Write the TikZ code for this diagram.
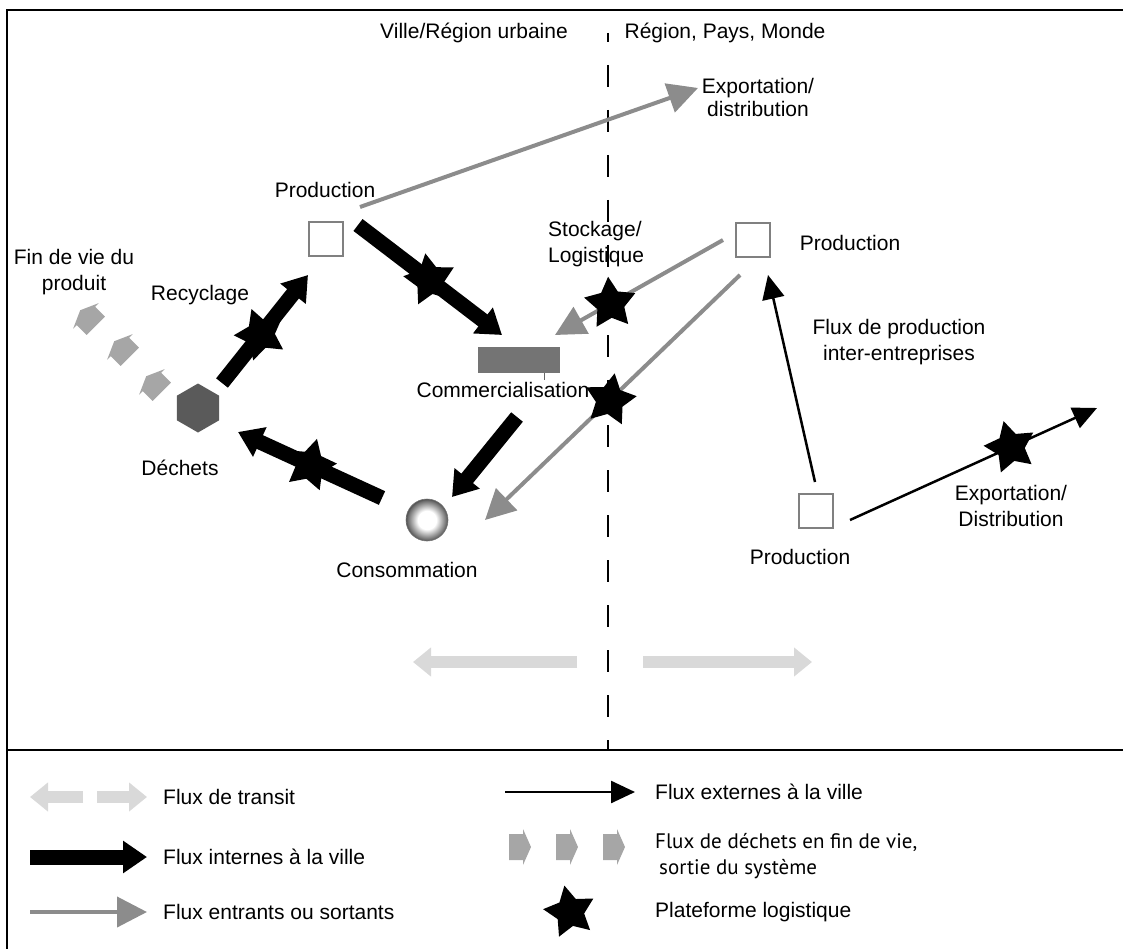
\documentclass[tikz,border=0pt]{standalone}
\usepackage{fontspec}
\setmainfont{Liberation Sans}
\newfontfamily\legfont{PT Sans}
\usetikzlibrary{arrows.meta,shapes.geometric,calc}

\definecolor{fluxgray}{HTML}{8C8C8C}
\definecolor{transitgray}{HTML}{D9D9D9}
\definecolor{wastegray}{HTML}{A6A6A6}
\definecolor{prodgray}{HTML}{808080}
\definecolor{commgray}{HTML}{747474}
\definecolor{dechgray}{HTML}{5A5A5A}

\pgfdeclareradialshading{consball}{\pgfpoint{0bp}{0bp}}{%
  color(0bp)=(white); color(11bp)=(white); color(24bp)=(black!62);
  color(25bp)=(black!70); color(50bp)=(black!70)}

\tikzset{
  intern/.style={line width=15pt, -{Triangle[width=31pt,length=24pt]}},
  inout/.style={fluxgray, line width=4pt, -{Triangle[width=30pt,length=30pt]}},
  extern/.style={line width=2.5pt, -{Triangle[width=22pt,length=24pt]}},
  transit/.style={transitgray, line width=12pt, -{Triangle[width=28pt,length=18pt]}},
  prod/.style={draw=prodgray, line width=1.5pt, minimum size=34pt, inner sep=0pt, fill=white},
  hub/.style={star, star points=5, star point ratio=1.9, fill=black, minimum size=54pt, inner sep=0pt},
  lbl/.style={inner sep=0pt, align=center},
  wastepic/.pic={\fill[wastegray] (-11,-13) -- (3,-13) -- (3,-18) -- (11,0) -- (3,18) -- (3,13) -- (-11,13) -- cycle;}
}

\begin{document}
\begin{tikzpicture}[x=1pt, y=-1pt, every node/.style={font=\fontsize{21}{26}\selectfont}]
  \useasboundingbox (0,0) rectangle (1123,949);
  % frame and city limit
  \draw[line width=1.5pt] (1123,10) -- (7,10) -- (7,949);
  \draw[line width=1.2pt] (7,750) -- (1123,750);
  \draw[line width=1.5pt, dash pattern=on 22pt off 23pt, dash phase=13pt] (608,33) -- (608,750);
  \node[lbl] (ville) at (474,33) {Ville/Région urbaine};
  \node[lbl] (monde) at (725,33) {Région, Pays, Monde};

  % places
  \node[prod] (prodA) at (326,239) {};
  \node[prod] (prodB) at (753,240) {};
  \node[prod] (prodC) at (816,511) {};
  \node[fill=commgray, minimum width=82pt, minimum height=26pt, inner sep=0pt] (comm) at (519,360) {};
  \draw[black!60, line width=0.6pt] ($(comm.south)+(25,0)$) -- ++(0,7);
  \node[circle, minimum size=42pt, inner sep=0pt, shading=consball, draw=black!55, line width=0.6pt] (cons) at (427,520) {};
  \node[regular polygon, regular polygon sides=6, shape border rotate=30, minimum size=49pt, inner sep=0pt, fill=dechgray] (dech) at (198,408) {};

  % labels
  \node[lbl] (expA) at (758,97) {Exportation/\\[-3pt]distribution};
  \node[lbl] (prodAl) at (325,190) {Production};
  \node[lbl] (fin) at (74,272) {Fin de vie du\\produit};
  \node[lbl] (recy) at (200,295) {Recyclage};
  \node[lbl] (dechl) at (180,468) {Déchets};
  \node[lbl, anchor=west, align=left] (stock) at (548,244) {Stockage/\\Logistique};
  \node[lbl] (comml) at (503,390) {Commercialisation};
  \node[lbl] (consl) at (407,570) {Consommation};
  \node[lbl] (prodBl) at (850,243) {Production};
  \node[lbl] (inter) at (899,342) {Flux de production\\inter-entreprises};
  \node[lbl] (prodCl) at (800,557) {Production};
  \node[lbl] (expB) at (1011,506) {Exportation/\\Distribution};

  % flux internes
  \draw[intern] ($(prodA)+(32,-14)$) -- ($(comm)+(-17,-25)$) node[hub, pos=.5, rotate=10] (hubA) {};
  \draw[intern] ($(comm)+(-2,57)$) -- ($(cons)+(25,-23)$);
  \draw[intern] ($(cons)+(-45,-22)$) -- ($(dech)+(40,24)$) node[hub, pos=.5, rotate=-15] (hubC) {};
  \draw[intern] ($(dech)+(24,-25)$) -- ($(prodA)+(-18,36)$) node[hub, pos=.45, rotate=20] (hubD) {};

  % flux entrants ou sortants
  \draw[inout] ($(prodA)+(34,-32)$) -- ($(expA)+(-60,-9)$);
  \draw[inout] ($(prodB)+(-30,0)$) -- ($(comm)+(36,-25)$) node[hub, pos=.67, rotate=5] (hubF) {};
  \draw[inout] ($(prodB)+(-13,35)$) -- ($(cons)+(58,0)$) node[hub, pos=.51, rotate=-10] (hubG) {};

  % flux externes
  \coordinate (expBend) at (1097,408);
  \draw[extern] ($(prodC)+(-1,-29)$) -- ($(prodB)+(15,35)$);
  \draw[extern] ($(prodC)+(34,9)$) -- (expBend) node[hub, pos=.65, rotate=15] (hubI) {};

  % transit
  \coordinate (trL0) at (577,662);
  \coordinate (trL1) at (413,662);
  \coordinate (trR0) at (643,662);
  \coordinate (trR1) at (812,662);
  \draw[transit] (trL0) -- (trL1);
  \draw[transit] (trR0) -- (trR1);

  % fin de vie
  \foreach \wx/\wy in {88/318, 122/349, 154/384}
    \pic[rotate=135] at (\wx,\wy) {wastepic};

  % legend
  \coordinate (lgTa) at (83,797);
  \coordinate (lgTb) at (30,797);
  \coordinate (lgTc) at (97,797);
  \coordinate (lgTd) at (147,797);
  \coordinate (lgIa) at (30,857);
  \coordinate (lgIb) at (147,857);
  \coordinate (lgOa) at (30,912);
  \coordinate (lgOb) at (147,912);
  \coordinate (lgEa) at (505,792);
  \coordinate (lgEb) at (635,792);
  \draw[transit] (lgTa) -- (lgTb);
  \draw[transit] (lgTc) -- (lgTd);
  \draw[intern] (lgIa) -- (lgIb);
  \draw[inout] (lgOa) -- (lgOb);
  \draw[extern] (lgEa) -- (lgEb);
  \foreach \wx in {520, 567, 614}
    \pic at (\wx,847) {wastepic};
  \node[hub, rotate=12] (lgHub) at (570,912) {};

  \node[lbl, anchor=west] (lgT) at (163,797) {Flux de transit};
  \node[lbl, anchor=west] (lgI) at (163,857) {Flux internes à la ville};
  \node[lbl, anchor=west] (lgO) at (163,912) {Flux entrants ou sortants};
  \node[lbl, anchor=west] (lgE) at (655,792) {Flux externes à la ville};
  \node[lbl, anchor=west, align=left, font=\legfont\fontsize{21}{26}\selectfont] (lgW) at (655,856) {Flux de déchets en fin de vie,\\\hspace*{4pt}sortie du système};
  \node[lbl, anchor=west] (lgH) at (655,912) {Plateforme logistique};
\end{tikzpicture}
\end{document}
